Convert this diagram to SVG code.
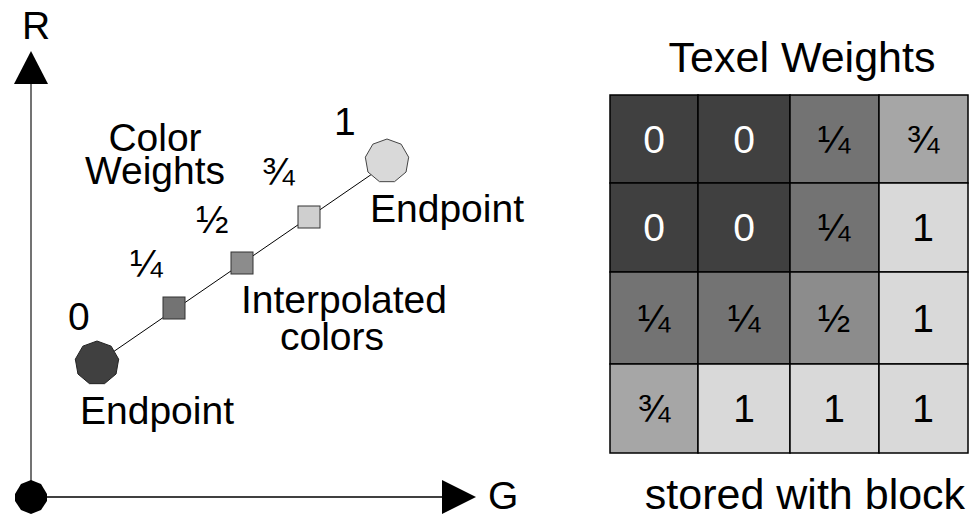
<svg xmlns="http://www.w3.org/2000/svg" width="973" height="515" viewBox="0 0 973 515">
<style>
text{font-family:"Liberation Sans",Arial,sans-serif;font-size:39px;fill:#000}
.m{text-anchor:middle}
.w{fill:#fff}
.big{font-size:43px}
.cell{stroke:#000;stroke-width:1.5}
.sq{stroke:#333;stroke-width:1}
.ax{stroke:#444;stroke-width:1.5;fill:none}
</style>
<defs>
<polygon id="non" points="0,-22 14.14,-16.85 21.67,-3.82 19.05,11 7.52,20.67 -7.52,20.67 -19.05,11 -21.67,-3.82 -14.14,-16.85"/>
</defs>
<g id="axes">
<line class="ax" x1="31" y1="84" x2="31" y2="497"/>
<line class="ax" x1="31" y1="497" x2="442" y2="497" style="stroke:#000"/>
<polygon points="31,51 48,84 14,84" fill="#000"/>
<polygon points="476,497 442,480 442,514" fill="#000"/>
<polygon points="31,480 41,484 47,494 47,501 41,510 31,514 21,510 15,501 15,494 21,484" fill="#000"/>
<text x="22" y="39">R</text>
<text x="488" y="509">G</text>
</g>
<g id="connectors">
<line x1="97" y1="363" x2="388" y2="163" stroke="#000" stroke-width="1"/>
</g>
<g id="endpoint0">
<use href="#non" x="97" y="363" fill="#404040" stroke="#222" stroke-width="1"/>
<text x="68" y="330">0</text>
<text x="80" y="424">Endpoint</text>
</g>
<g id="endpoint1">
<use href="#non" x="387" y="161" fill="#d9d9d9" stroke="#444" stroke-width="1"/>
<text x="334" y="135">1</text>
<text x="370" y="222">Endpoint</text>
</g>
<g id="q1">
<rect class="sq" x="163" y="297" width="22" height="22" fill="#737373"/>
<text x="130" y="277">¼</text>
</g>
<g id="q2">
<rect class="sq" x="231" y="252" width="22" height="22" fill="#8c8c8c"/>
<text x="196" y="233">½</text>
</g>
<g id="q3">
<rect class="sq" x="298" y="206" width="22" height="22" fill="#cfcfcf"/>
<text x="262" y="185">¾</text>
</g>
<g id="labels">
<text class="m" x="155" y="151">Color</text>
<text class="m" x="155" y="184">Weights</text>
<text class="m" x="344" y="313">Interpolated</text>
<text class="m" x="332" y="350">colors</text>
<text class="m big" x="802" y="72">Texel Weights</text>
<text class="m big" x="805" y="509">stored with block</text>
</g>
<g id="grid">
<rect class="cell" x="610" y="95" width="88" height="88" fill="#404040"/>
<rect class="cell" x="698" y="95" width="92" height="88" fill="#404040"/>
<rect class="cell" x="790" y="95" width="89" height="88" fill="#737373"/>
<rect class="cell" x="879" y="95" width="89" height="88" fill="#a6a6a6"/>
<rect class="cell" x="610" y="183" width="88" height="89" fill="#404040"/>
<rect class="cell" x="698" y="183" width="92" height="89" fill="#404040"/>
<rect class="cell" x="790" y="183" width="89" height="89" fill="#737373"/>
<rect class="cell" x="879" y="183" width="89" height="89" fill="#d9d9d9"/>
<rect class="cell" x="610" y="272" width="88" height="92" fill="#737373"/>
<rect class="cell" x="698" y="272" width="92" height="92" fill="#737373"/>
<rect class="cell" x="790" y="272" width="89" height="92" fill="#8c8c8c"/>
<rect class="cell" x="879" y="272" width="89" height="92" fill="#d9d9d9"/>
<rect class="cell" x="610" y="364" width="88" height="89" fill="#a6a6a6"/>
<rect class="cell" x="698" y="364" width="92" height="89" fill="#d9d9d9"/>
<rect class="cell" x="790" y="364" width="89" height="89" fill="#d9d9d9"/>
<rect class="cell" x="879" y="364" width="89" height="89" fill="#d9d9d9"/>
<text class="m w" x="654" y="153">0</text>
<text class="m w" x="744" y="153">0</text>
<text class="m" x="834" y="153">¼</text>
<text class="m" x="923" y="153">¾</text>
<text class="m w" x="654" y="241">0</text>
<text class="m w" x="744" y="241">0</text>
<text class="m" x="834" y="241">¼</text>
<text class="m" x="923" y="241">1</text>
<text class="m" x="654" y="332">¼</text>
<text class="m" x="744" y="332">¼</text>
<text class="m" x="834" y="332">½</text>
<text class="m" x="923" y="332">1</text>
<text class="m" x="654" y="422">¾</text>
<text class="m" x="744" y="422">1</text>
<text class="m" x="834" y="422">1</text>
<text class="m" x="923" y="422">1</text>
</g>
</svg>
